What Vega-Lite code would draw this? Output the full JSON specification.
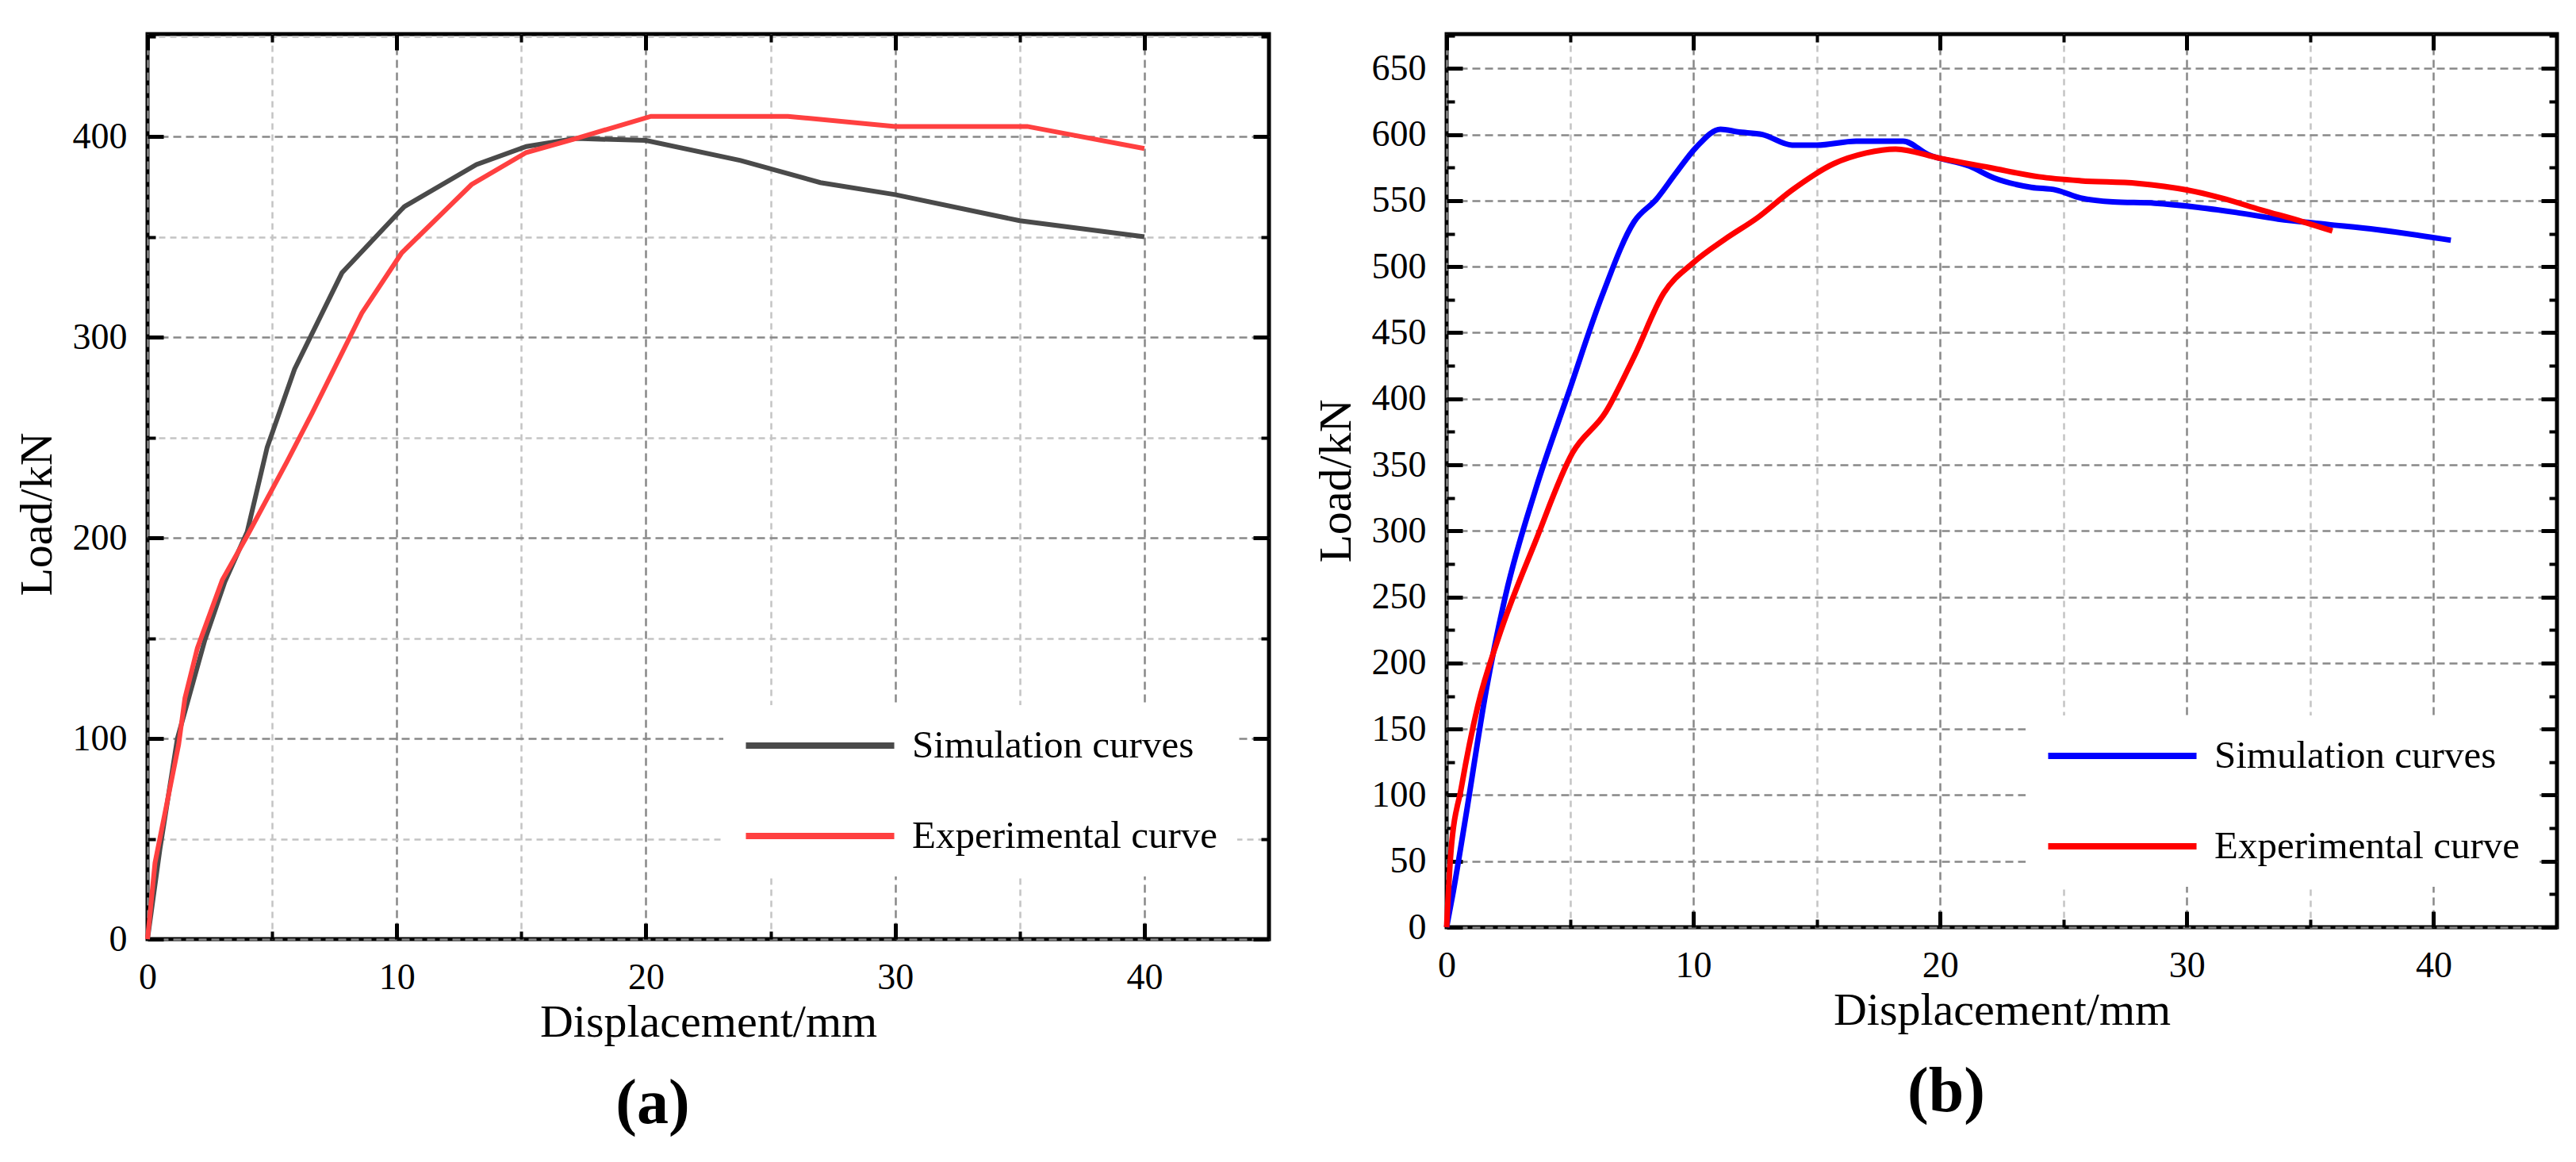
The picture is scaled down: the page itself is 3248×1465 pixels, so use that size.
{
  "$schema": "https://vega.github.io/schema/vega-lite/v6.json",
  "padding": {"left": 15, "top": 38, "right": 5, "bottom": 5},
  "background": "white",
  "datasets": {
    "a": [
      {"x": 0, "y": 0, "series": "Simulation curves"},
      {"x": 0.5, "y": 45, "series": "Simulation curves"},
      {"x": 1.2, "y": 100, "series": "Simulation curves"},
      {"x": 2.3, "y": 149, "series": "Simulation curves"},
      {"x": 3.1, "y": 178, "series": "Simulation curves"},
      {"x": 4.0, "y": 203, "series": "Simulation curves"},
      {"x": 4.8, "y": 245, "series": "Simulation curves"},
      {"x": 5.9, "y": 284, "series": "Simulation curves"},
      {"x": 7.8, "y": 332, "series": "Simulation curves"},
      {"x": 10.3, "y": 365, "series": "Simulation curves"},
      {"x": 13.2, "y": 386, "series": "Simulation curves"},
      {"x": 15.2, "y": 395, "series": "Simulation curves"},
      {"x": 17.2, "y": 399, "series": "Simulation curves"},
      {"x": 20, "y": 398, "series": "Simulation curves"},
      {"x": 23.8, "y": 388, "series": "Simulation curves"},
      {"x": 27, "y": 377, "series": "Simulation curves"},
      {"x": 30, "y": 371, "series": "Simulation curves"},
      {"x": 35, "y": 358, "series": "Simulation curves"},
      {"x": 40, "y": 350, "series": "Simulation curves"},
      {"x": 0, "y": 0, "series": "Experimental curve"},
      {"x": 0.3, "y": 38, "series": "Experimental curve"},
      {"x": 1.25, "y": 97, "series": "Experimental curve"},
      {"x": 1.5, "y": 120, "series": "Experimental curve"},
      {"x": 2.0, "y": 145, "series": "Experimental curve"},
      {"x": 3.0, "y": 179, "series": "Experimental curve"},
      {"x": 4.0, "y": 201, "series": "Experimental curve"},
      {"x": 5.6, "y": 238, "series": "Experimental curve"},
      {"x": 6.6, "y": 262, "series": "Experimental curve"},
      {"x": 8.6, "y": 312, "series": "Experimental curve"},
      {"x": 10.2, "y": 342, "series": "Experimental curve"},
      {"x": 13, "y": 376, "series": "Experimental curve"},
      {"x": 15.2, "y": 392, "series": "Experimental curve"},
      {"x": 17.2, "y": 399, "series": "Experimental curve"},
      {"x": 20.2, "y": 410, "series": "Experimental curve"},
      {"x": 25.7, "y": 410, "series": "Experimental curve"},
      {"x": 30, "y": 405, "series": "Experimental curve"},
      {"x": 35.3, "y": 405, "series": "Experimental curve"},
      {"x": 40, "y": 394, "series": "Experimental curve"}
    ],
    "b": [
      {"x": 0, "y": 0, "series": "Simulation curves"},
      {"x": 0.27, "y": 27, "series": "Simulation curves"},
      {"x": 0.77, "y": 83, "series": "Simulation curves"},
      {"x": 1.6, "y": 179, "series": "Simulation curves"},
      {"x": 2.4, "y": 252, "series": "Simulation curves"},
      {"x": 3.6, "y": 331, "series": "Simulation curves"},
      {"x": 4.95, "y": 405, "series": "Simulation curves"},
      {"x": 6.3, "y": 478, "series": "Simulation curves"},
      {"x": 7.6, "y": 534, "series": "Simulation curves"},
      {"x": 8.5, "y": 551, "series": "Simulation curves"},
      {"x": 9.3, "y": 571, "series": "Simulation curves"},
      {"x": 10.1, "y": 590, "series": "Simulation curves"},
      {"x": 11.1, "y": 604, "series": "Simulation curves"},
      {"x": 11.8, "y": 602, "series": "Simulation curves"},
      {"x": 12.8, "y": 600, "series": "Simulation curves"},
      {"x": 14.0, "y": 592, "series": "Simulation curves"},
      {"x": 15.0, "y": 592, "series": "Simulation curves"},
      {"x": 16.6, "y": 595, "series": "Simulation curves"},
      {"x": 18.5, "y": 595, "series": "Simulation curves"},
      {"x": 19.5, "y": 585, "series": "Simulation curves"},
      {"x": 21.2, "y": 576, "series": "Simulation curves"},
      {"x": 22.2, "y": 567, "series": "Simulation curves"},
      {"x": 23.7, "y": 560, "series": "Simulation curves"},
      {"x": 24.7, "y": 558, "series": "Simulation curves"},
      {"x": 25.7, "y": 552, "series": "Simulation curves"},
      {"x": 27, "y": 549, "series": "Simulation curves"},
      {"x": 28.7, "y": 548, "series": "Simulation curves"},
      {"x": 30.4, "y": 545, "series": "Simulation curves"},
      {"x": 32, "y": 541, "series": "Simulation curves"},
      {"x": 33.7, "y": 536, "series": "Simulation curves"},
      {"x": 35.7, "y": 532, "series": "Simulation curves"},
      {"x": 37.7, "y": 528, "series": "Simulation curves"},
      {"x": 40.7, "y": 520, "series": "Simulation curves"},
      {"x": 0, "y": 0, "series": "Experimental curve"},
      {"x": 0.17, "y": 56, "series": "Experimental curve"},
      {"x": 0.6, "y": 106, "series": "Experimental curve"},
      {"x": 1.27, "y": 168, "series": "Experimental curve"},
      {"x": 2.1, "y": 219, "series": "Experimental curve"},
      {"x": 3.6, "y": 292, "series": "Experimental curve"},
      {"x": 5.1, "y": 359, "series": "Experimental curve"},
      {"x": 6.45, "y": 390, "series": "Experimental curve"},
      {"x": 7.6, "y": 432, "series": "Experimental curve"},
      {"x": 8.8, "y": 480, "series": "Experimental curve"},
      {"x": 10, "y": 503, "series": "Experimental curve"},
      {"x": 11.3, "y": 521, "series": "Experimental curve"},
      {"x": 12.6, "y": 537, "series": "Experimental curve"},
      {"x": 14, "y": 558, "series": "Experimental curve"},
      {"x": 15.7, "y": 578, "series": "Experimental curve"},
      {"x": 17, "y": 586, "series": "Experimental curve"},
      {"x": 18.2, "y": 589, "series": "Experimental curve"},
      {"x": 20, "y": 582, "series": "Experimental curve"},
      {"x": 22, "y": 575, "series": "Experimental curve"},
      {"x": 24, "y": 568, "series": "Experimental curve"},
      {"x": 25.7, "y": 565, "series": "Experimental curve"},
      {"x": 28, "y": 563, "series": "Experimental curve"},
      {"x": 30, "y": 558, "series": "Experimental curve"},
      {"x": 31.4, "y": 552, "series": "Experimental curve"},
      {"x": 33, "y": 543, "series": "Experimental curve"},
      {"x": 34.7, "y": 534, "series": "Experimental curve"},
      {"x": 35.9, "y": 527, "series": "Experimental curve"}
    ]
  },
  "bounds": "flush",
  "spacing": 224,
  "resolve": {"scale": {"color": "independent"}, "legend": {"color": "independent"}},
  "hconcat": [
    {
      "width": 1414,
      "height": 1141,
      "data": {"name": "a"},
      "title": {"text": "(a)"},
      "layer": [
        {
          "mark": {"type": "line", "strokeWidth": 6},
          "encoding": {
            "x": {"field": "x", "type": "quantitative",
              "scale": {"domain": [0, 45], "nice": false, "zero": false},
              "axis": {"orient": "bottom", "values": [0, 10, 20, 30, 40], "ticks": false,
                "labelFont": "Liberation Serif",
                "grid": true, "gridColor": "#888888", "gridDash": [10, 6], "gridWidth": 2.5,
                "title": "Displacement/mm", "titlePadding": 5}},
            "y": {"field": "y", "type": "quantitative",
              "scale": {"domain": [0, 451], "nice": false},
              "axis": {"orient": "left", "values": [0, 100, 200, 300, 400], "ticks": false,
                "labelFont": "Liberation Serif",
                "grid": true, "gridColor": "#888888", "gridDash": [10, 6], "gridWidth": 2.5,
                "title": "Load/kN", "titlePadding": 15, "titleY": 605}},
            "color": {"field": "series", "type": "nominal",
              "scale": {"domain": ["Simulation curves", "Experimental curve"], "range": ["#4a4a4a", "#ff4040"]},
              "legend": {"title": null, "orient": "none", "legendX": 726, "legendY": 846}}
          }
        },
        {
          "mark": {"type": "point", "opacity": 0},
          "encoding": {
            "x": {"field": "x", "type": "quantitative",
              "axis": {"orient": "bottom", "values": [0, 10, 20, 30, 40], "labels": false, "grid": false,
                "tickSize": -20, "tickWidth": 5, "title": null}},
            "y": {"field": "y", "type": "quantitative",
              "axis": {"orient": "left", "values": [0, 100, 200, 300, 400], "labels": false, "grid": false,
                "tickSize": -20, "tickWidth": 5, "title": null}}
          }
        },
        {
          "mark": {"type": "point", "opacity": 0},
          "encoding": {
            "x": {"field": "x", "type": "quantitative",
              "axis": {"orient": "bottom", "values": [5, 15, 25, 35], "labels": false,
                "grid": true, "gridColor": "#c4c4c4", "gridDash": [8, 6], "gridWidth": 2.5,
                "tickSize": -10, "tickWidth": 4, "title": null}},
            "y": {"field": "y", "type": "quantitative",
              "axis": {"orient": "left", "values": [50, 150, 250, 350, 450], "labels": false,
                "grid": true, "gridColor": "#c4c4c4", "gridDash": [8, 6], "gridWidth": 2.5,
                "tickSize": -10, "tickWidth": 4, "title": null}}
          }
        },
        {
          "mark": {"type": "point", "opacity": 0},
          "encoding": {
            "x": {"field": "x", "type": "quantitative",
              "axis": {"orient": "top", "values": [0, 10, 20, 30, 40], "labels": false, "grid": false,
                "tickSize": -20, "tickWidth": 5, "title": null}},
            "y": {"field": "y", "type": "quantitative",
              "axis": {"orient": "right", "values": [0, 100, 200, 300, 400], "labels": false, "grid": false,
                "tickSize": -20, "tickWidth": 5, "title": null}}
          }
        },
        {
          "mark": {"type": "point", "opacity": 0},
          "encoding": {
            "x": {"field": "x", "type": "quantitative",
              "axis": {"orient": "top", "values": [5, 15, 25, 35], "labels": false, "grid": false,
                "tickSize": -10, "tickWidth": 4, "title": null}},
            "y": {"field": "y", "type": "quantitative",
              "axis": {"orient": "right", "values": [50, 150, 250, 350, 450], "labels": false, "grid": false,
                "tickSize": -10, "tickWidth": 4, "title": null}}
          }
        }
      ],
      "resolve": {"axis": {"x": "independent", "y": "independent"}}
    },
    {
      "width": 1400,
      "height": 1126,
      "data": {"name": "b"},
      "title": {"text": "(b)"},
      "layer": [
        {
          "mark": {"type": "line", "strokeWidth": 7, "interpolate": "monotone"},
          "encoding": {
            "x": {"field": "x", "type": "quantitative",
              "scale": {"domain": [0, 45], "nice": false, "zero": false},
              "axis": {"orient": "bottom", "values": [0, 10, 20, 30, 40], "ticks": false,
                "labelFont": "Liberation Serif",
                "grid": true, "gridColor": "#888888", "gridDash": [10, 6], "gridWidth": 2.5,
                "title": "Displacement/mm", "titlePadding": 5}},
            "y": {"field": "y", "type": "quantitative",
              "scale": {"domain": [0, 676], "nice": false},
              "axis": {"orient": "left", "values": [0, 50, 100, 150, 200, 250, 300, 350, 400, 450, 500, 550, 600, 650], "ticks": false,
                "labelFont": "Liberation Serif",
                "grid": true, "gridColor": "#888888", "gridDash": [10, 6], "gridWidth": 2.5,
                "title": "Load/kN", "titlePadding": 15}},
            "color": {"field": "series", "type": "nominal",
              "scale": {"domain": ["Simulation curves", "Experimental curve"], "range": ["#0000ff", "#ff0000"]},
              "legend": {"title": null, "orient": "none", "legendX": 730, "legendY": 859}}
          }
        },
        {
          "mark": {"type": "point", "opacity": 0},
          "encoding": {
            "x": {"field": "x", "type": "quantitative",
              "axis": {"orient": "bottom", "values": [0, 10, 20, 30, 40], "labels": false, "grid": false,
                "tickSize": -20, "tickWidth": 5, "title": null}},
            "y": {"field": "y", "type": "quantitative",
              "axis": {"orient": "left", "values": [0, 50, 100, 150, 200, 250, 300, 350, 400, 450, 500, 550, 600, 650], "labels": false, "grid": false,
                "tickSize": -20, "tickWidth": 5, "title": null}}
          }
        },
        {
          "mark": {"type": "point", "opacity": 0},
          "encoding": {
            "x": {"field": "x", "type": "quantitative",
              "axis": {"orient": "bottom", "values": [5, 15, 25, 35], "labels": false,
                "grid": true, "gridColor": "#c4c4c4", "gridDash": [8, 6], "gridWidth": 2.5,
                "tickSize": -10, "tickWidth": 4, "title": null}},
            "y": {"field": "y", "type": "quantitative",
              "axis": {"orient": "left", "values": [25, 75, 125, 175, 225, 275, 325, 375, 425, 475, 525, 575, 625, 675], "labels": false, "grid": false,
                "tickSize": -10, "tickWidth": 4, "title": null}}
          }
        },
        {
          "mark": {"type": "point", "opacity": 0},
          "encoding": {
            "x": {"field": "x", "type": "quantitative",
              "axis": {"orient": "top", "values": [0, 10, 20, 30, 40], "labels": false, "grid": false,
                "tickSize": -20, "tickWidth": 5, "title": null}},
            "y": {"field": "y", "type": "quantitative",
              "axis": {"orient": "right", "values": [0, 50, 100, 150, 200, 250, 300, 350, 400, 450, 500, 550, 600, 650], "labels": false, "grid": false,
                "tickSize": -20, "tickWidth": 5, "title": null}}
          }
        },
        {
          "mark": {"type": "point", "opacity": 0},
          "encoding": {
            "x": {"field": "x", "type": "quantitative",
              "axis": {"orient": "top", "values": [5, 15, 25, 35], "labels": false, "grid": false,
                "tickSize": -10, "tickWidth": 4, "title": null}},
            "y": {"field": "y", "type": "quantitative",
              "axis": {"orient": "right", "values": [25, 75, 125, 175, 225, 275, 325, 375, 425, 475, 525, 575, 625, 675], "labels": false, "grid": false,
                "tickSize": -10, "tickWidth": 4, "title": null}}
          }
        }
      ],
      "resolve": {"axis": {"x": "independent", "y": "independent"}}
    }
  ],
  "config": {
    "view": {"stroke": "black", "strokeWidth": 5},
    "axis": {
      "domain": false,
      "tickColor": "black",
      "labelFont": "Liberation Serif",
      "labelFontSize": 46,
      "labelColor": "black",
      "labelPadding": 26,
      "labelFlush": false,
      "labelOverlap": false,
      "titleFont": "Liberation Serif",
      "titleFontSize": 58,
      "titleFontWeight": "normal",
      "titleColor": "black"
    },
    "legend": {
      "labelFont": "Liberation Serif",
      "labelFontSize": 49,
      "labelColor": "black",
      "labelLimit": 0,
      "symbolType": "stroke",
      "symbolSize": 35000,
      "symbolStrokeWidth": 8,
      "labelOffset": 18,
      "clipHeight": 54,
      "rowPadding": 60,
      "padding": 24,
      "fillColor": "white"
    },
    "title": {
      "font": "Liberation Serif",
      "fontSize": 80,
      "fontWeight": "bold",
      "color": "black",
      "orient": "bottom",
      "offset": 35,
      "dx": -70
    }
  }
}
